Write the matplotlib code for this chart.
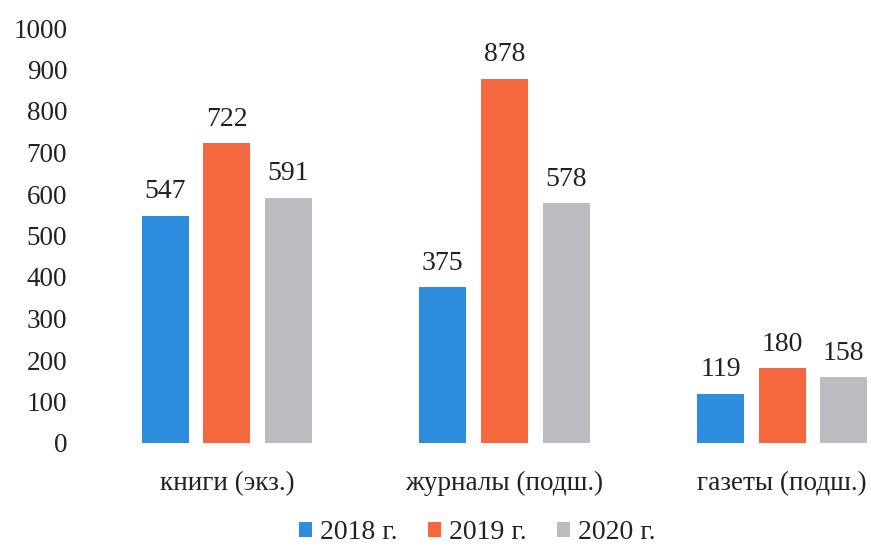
import matplotlib
matplotlib.use("Agg")
import matplotlib.pyplot as plt
import numpy as np

categories = ["книги (экз.)", "журналы (подш.)", "газеты (подш.)"]
years = ["2018 г.", "2019 г.", "2020 г."]
v2018 = [547, 375, 119]
v2019 = [722, 878, 180]
v2020 = [591, 578, 158]
colors = ["#2f8de0", "#f4673f", "#bcbcc0"]

plt.rcParams["font.family"] = ["Liberation Serif", "DejaVu Serif"]

fig = plt.figure(figsize=(8.71, 5.47), dpi=100)
ax = fig.add_axes([88 / 871, 104 / 547, 1 - 88 / 871, 415 / 547])

x = np.arange(len(categories))
w = 0.17
step = 0.222
for i, (vals, lab) in enumerate(zip([v2018, v2019, v2020], years)):
    pos = x + (i - 1) * step
    ax.bar(pos, vals, width=w, color=colors[i], label=lab)
    for p, v in zip(pos, vals):
        ax.text(p, v + 28, str(v), ha="center", va="bottom", fontsize=20, color="#222222")

ax.set_ylim(0, 1000)
ax.set_xlim(-0.5, 2.32)
ax.set_yticks(range(0, 1001, 100))
ax.tick_params(axis="y", length=0, labelsize=19.5, pad=15, labelcolor="#222222")
ax.set_xticks(x)
ax.set_xticklabels(categories)
ax.tick_params(axis="x", length=0, labelsize=19.5, pad=20, labelcolor="#222222")
for s in ax.spines.values():
    s.set_visible(False)

fig.legend(loc="lower center", bbox_to_anchor=(0.548, -0.042), ncol=3, frameon=False,
           fontsize=20, handlelength=0.45, handleheight=0.45, handletextpad=0.3,
           columnspacing=1.1, labelcolor="#222222")

fig.savefig("out.png", dpi=100)
